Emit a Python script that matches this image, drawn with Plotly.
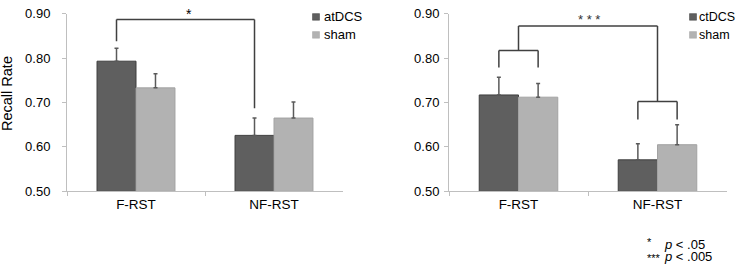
import plotly.graph_objects as go

W, H = 737, 276

categories = ["F-RST", "NF-RST"]

# Left panel (anodal)
left_active_name = "atDCS"
left_active = [0.793, 0.626]
left_active_err = [0.029, 0.039]
left_sham = [0.733, 0.665]
left_sham_err = [0.032, 0.036]

# Right panel (cathodal)
right_active_name = "ctDCS"
right_active = [0.717, 0.571]
right_active_err = [0.040, 0.036]
right_sham = [0.712, 0.605]
right_sham_err = [0.031, 0.045]

y_ticks = [0.50, 0.60, 0.70, 0.80, 0.90]

# bracket levels (data units)
left_bracket = {"left_end": 0.838, "top": 0.887, "right_end": 0.687}
right_bracket = {"sub_end": 0.779, "sub_top": 0.817, "top": 0.872,
                 "nf_top": 0.702, "nf_end": 0.662}

DARK = "#5f5f5f"
DARK_LINE = "#3f3f3f"
LIGHT = "#b2b2b2"
LIGHT_LINE = "#a3a3a3"
AXIS = "#bfbfbf"
BR = "#404040"
BARGAP = 0.435
FONT = "Arial, Liberation Sans, sans-serif"


def px(x):
    return x / W


def py(y):
    return 1 - y / H


def err(arr):
    return dict(type="data", array=arr, arrayminus=[0] * len(arr), symmetric=False,
                color="#5a5a5a", thickness=1.5, width=2)


fig = go.Figure()
for xa, ya, act, acte, sh, she, nm in [
    ("x", "y", left_active, left_active_err, left_sham, left_sham_err, left_active_name),
    ("x2", "y2", right_active, right_active_err, right_sham, right_sham_err, right_active_name),
]:
    fig.add_trace(go.Bar(x=categories, y=[v - 0.5 for v in act], base=0.5, name=nm,
                         marker=dict(color=DARK, line=dict(color=DARK_LINE, width=1)),
                         error_y=err(acte), xaxis=xa, yaxis=ya, showlegend=False))
    fig.add_trace(go.Bar(x=categories, y=[v - 0.5 for v in sh], base=0.5, name="sham",
                         marker=dict(color=LIGHT, line=dict(color=LIGHT_LINE, width=1)),
                         error_y=err(she), xaxis=xa, yaxis=ya, showlegend=False))

ydom = [py(195), py(7)]
common_y = dict(range=[0.4999, 0.9001], tickvals=y_ticks, tickformat=".2f", showgrid=False,
                zeroline=False, showline=True, linecolor=AXIS, linewidth=1,
                ticks="outside", ticklen=4, tickcolor=AXIS, domain=ydom,
                ticklabeloverflow="allow",
                tickfont=dict(family=FONT, size=13, color="#000"))
common_x = dict(showgrid=False, zeroline=False, showline=True, linecolor=AXIS, linewidth=1,
                ticks="outside", ticklen=4, tickcolor=AXIS, tickson="boundaries",
                ticklabeloverflow="allow",
                tickfont=dict(family=FONT, size=13.5, color="#000"), range=[-0.5, 1.5])

fig.update_layout(
    width=W, height=H, margin=dict(l=0, r=0, t=0, b=0),
    paper_bgcolor="white", plot_bgcolor="white",
    barmode="group", bargap=BARGAP, bargroupgap=0,
    xaxis=dict(domain=[px(67), px(343)], anchor="y", **common_x),
    xaxis2=dict(domain=[px(449), px(727)], anchor="y2", **common_x),
    yaxis=dict(anchor="x", ticklabelstandoff=9, **common_y),
    yaxis2=dict(anchor="x2", ticklabelstandoff=2, **common_y),
    showlegend=False,
)

off = (1 - BARGAP) / 4  # centre offset of each bar within a group


def seg(xref, yref, x0, y0, x1, y1):
    fig.add_shape(type="line", xref=xref, yref=yref, x0=x0, y0=y0, x1=x1, y1=y1,
                  line=dict(color=BR, width=1.5))


# left bracket
lb = left_bracket
seg("x", "y", 0 - off, lb["left_end"], 0 - off, lb["top"])
seg("x", "y", 0 - off, lb["top"], 1 - off, lb["top"])
seg("x", "y", 1 - off, lb["top"], 1 - off, lb["right_end"])

# right brackets
rb = right_bracket
seg("x2", "y2", 0 - off, rb["sub_end"], 0 - off, rb["sub_top"])
seg("x2", "y2", 0 - off, rb["sub_top"], 0 + off, rb["sub_top"])
seg("x2", "y2", 0 + off, rb["sub_top"], 0 + off, rb["sub_end"])
seg("x2", "y2", 0, rb["sub_top"], 0, rb["top"])
seg("x2", "y2", 0, rb["top"], 1, rb["top"])
seg("x2", "y2", 1, rb["top"], 1, rb["nf_top"])
seg("x2", "y2", 1 - off, rb["nf_top"], 1 + off, rb["nf_top"])
seg("x2", "y2", 1 - off, rb["nf_top"], 1 - off, rb["nf_end"])
seg("x2", "y2", 1 + off, rb["nf_top"], 1 + off, rb["nf_end"])

# significance stars (paper coordinates so they are never hidden)
fig.add_annotation(x=px(189), y=py(7), xref="paper", yref="paper", text="*", showarrow=False,
                   xanchor="center", yanchor="middle",
                   font=dict(family=FONT, size=14, color="#000"))
fig.add_annotation(x=px(589), y=py(13), xref="paper", yref="paper", text="* * *", showarrow=False,
                   xanchor="center", yanchor="middle",
                   font=dict(family=FONT, size=13, color="#333"))

# legends
for lx, tx, fs, nm in [(316, 322, 13, left_active_name), (693, 697, 12.5, right_active_name)]:
    for i, (label, col, lc) in enumerate([(nm, DARK, DARK_LINE), ("sham", LIGHT, LIGHT_LINE)]):
        cy = 10.5 + 19 * i
        fig.add_shape(type="rect", xref="paper", yref="paper",
                      x0=px(lx - 3.5), x1=px(lx + 3.5), y0=py(cy + 3.5), y1=py(cy - 3.5),
                      fillcolor=col, line=dict(color=lc, width=0.5))
        fig.add_annotation(x=px(tx), y=py(cy), xref="paper", yref="paper", text=label,
                           showarrow=False, xanchor="left", yanchor="middle",
                           font=dict(family=FONT, size=fs, color="#000"))

# y-axis title
fig.add_annotation(x=px(7), y=py(92), xref="paper", yref="paper", text="Recall Rate",
                   textangle=-90, showarrow=False, xanchor="center", yanchor="middle",
                   font=dict(family=FONT, size=14.5, color="#000"))

# p-value note
for sy, ty, stars, ptxt in [(248.5, 251, "*", "<i>p</i> < .05"), (265, 264, "***", "<i>p</i> < .005")]:
    fig.add_annotation(x=px(645), y=py(sy), xref="paper", yref="paper", text=stars,
                       showarrow=False, xanchor="left", yanchor="middle",
                       font=dict(family=FONT, size=11, color="#000"))
    fig.add_annotation(x=px(662), y=py(ty), xref="paper", yref="paper", text=ptxt,
                       showarrow=False, xanchor="left", yanchor="middle",
                       font=dict(family=FONT, size=13, color="#000"))

# the page's default body margin would push the 737x276 figure out of the window
fig.write_html("out.html", config={"displayModeBar": False},
               post_script="document.body.style.margin='0';")
